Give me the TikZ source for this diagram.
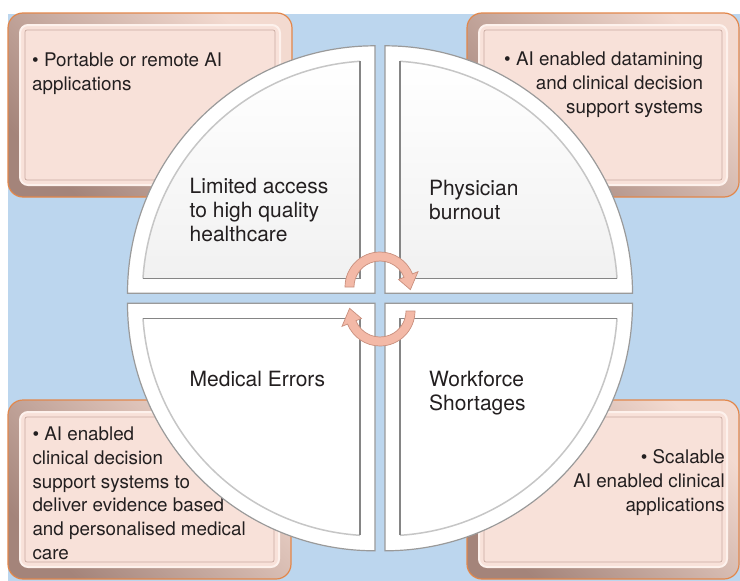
\documentclass[tikz,border=0pt]{standalone}
\usepackage{fontspec}
\setmainfont{TeX Gyre Heros}
\definecolor{bgblue}{HTML}{BCD6EE}
\definecolor{boxorange}{HTML}{E2874B}
\definecolor{bevellight}{HTML}{F3DAD0}
\definecolor{beveldark}{HTML}{A4847A}
\definecolor{boxface}{HTML}{F8E1D9}
\definecolor{boxrimc}{HTML}{FDF1EC}
\definecolor{boxline}{HTML}{C9AAA1}
\definecolor{quadline}{HTML}{9A9A9A}
\definecolor{quaddark}{HTML}{858585}
\definecolor{quadlight}{HTML}{C6C6C6}
\definecolor{quadshade}{HTML}{F1F1F1}
\definecolor{arrowfill}{HTML}{F3B9A7}
\definecolor{arrowline}{HTML}{C98F7D}
\definecolor{txt}{HTML}{231F20}
\tikzset{
  boxouter/.style={rounded corners=15pt, draw=boxorange, line width=1.2pt,
    top color=bevellight, bottom color=beveldark, shading angle=-45},
  boxrim/.style={rounded corners=8pt, fill=boxface, draw=boxrimc, line width=2pt},
  boxinner/.style={rounded corners=2pt, draw=boxline, line width=0.7pt},
  quadouter/.style={fill=white, draw=quadline, line width=1.2pt},
  circtext/.style={font=\fontsize{21}{24}\selectfont, text=txt, inner sep=0pt, align=left, anchor=north west},
  boxtext/.style={font=\fontsize{18.8}{23.8}\selectfont, text=txt, inner sep=0pt},
  cyclearrow/.style={fill=arrowfill, draw=arrowline, line width=0.7pt}
}
\newcommand\pinkbox[5]{%
  \path[boxouter] (#1,#2) rectangle (#3,#4);
  \path[boxrim] (#1+12,#2+12) rectangle (#3-12,#4-12);
  \path[boxinner] (#1+17,#2+17) rectangle (#3-17,#4-17);
  \coordinate (#5) at (#1,#2);
}
\newcommand\quadpiece[5]{%
  \begin{scope}[shift={(#1,#2)}, xscale=#3, yscale=#4]
    \path[quadouter] (0,0) -- (-247.5,0) arc[start angle=180, end angle=270, radius=247.5] -- cycle;
    \path[#5] (-15,-15) -- (-15,-232.016) arc[start angle=266.301, end angle=183.699, radius=232.5] -- cycle;
    \draw[quadlight, line width=1.5pt] (-15,-232.016) arc[start angle=266.301, end angle=183.699, radius=232.5];
    \draw[quaddark, line width=1.5pt] (-232.016,-15) -- (-15,-15) -- (-15,-232.016);
  \end{scope}
}
\begin{document}
\begin{tikzpicture}[x=1pt, y=-1pt]
  \useasboundingbox (0,0) rectangle (740,581);
  \fill[white] (0,0) rectangle (740,581);
  \fill[bgblue] (8,14) rectangle (740,581);

  % corner boxes
  \pinkbox{8}{13}{292}{197}{tlbox}
  \pinkbox{467}{13}{739}{197}{trbox}
  \pinkbox{8}{400}{291}{579}{blbox}
  \pinkbox{467}{400}{739}{579}{brbox}

  \node[boxtext, align=left, anchor=north west] (tltext) at (32,52.5)
    {• Portable or remote AI\\applications};
  \node[boxtext, align=right, anchor=north east] (trtext) at (703.3,51.5)
    {• AI enabled datamining\\and clinical decision\\support systems};
  \node[boxtext, align=left, anchor=north west] (bltext) at (32.3,426.5)
    {• AI enabled\\clinical decision\\support systems to\\deliver evidence based\\and personalised medical\\care};
  \node[boxtext, align=right, anchor=north east] (brtext) at (725,449.5)
    {• Scalable\\AI enabled clinical\\applications};

  % circle quadrants
  \quadpiece{375}{293.3}{1}{1}{top color=white, bottom color=quadshade}
  \quadpiece{385}{293.3}{-1}{1}{top color=white, bottom color=quadshade}
  \quadpiece{375}{303.3}{1}{-1}{fill=white}
  \quadpiece{385}{303.3}{-1}{-1}{fill=white}

  \node[circtext] (access) at (189.5,178.2) {Limited access\\to high quality\\healthcare};
  \node[circtext] (burnout) at (429,179.9) {Physician\\burnout};
  \node[circtext] (errors) at (189.5,370.9) {Medical Errors};
  \node[circtext] (workforce) at (429,370.9) {Workforce\\Shortages};

  % cycle arrows
  \path[cyclearrow, shift={(380,287)}]
    (180:35) arc[start angle=180, end angle=338, radius=35]
    -- (338:41) -- (365:30.5) -- (338:20) -- (338:26)
    arc[start angle=338, end angle=180, radius=26] -- cycle;
  \begin{scope}[rotate around={180:(380,299)}]
    \path[cyclearrow, shift={(380,287)}]
      (180:35) arc[start angle=180, end angle=338, radius=35]
      -- (338:41) -- (365:30.5) -- (338:20) -- (338:26)
      arc[start angle=338, end angle=180, radius=26] -- cycle;
  \end{scope}
\end{tikzpicture}
\end{document}
